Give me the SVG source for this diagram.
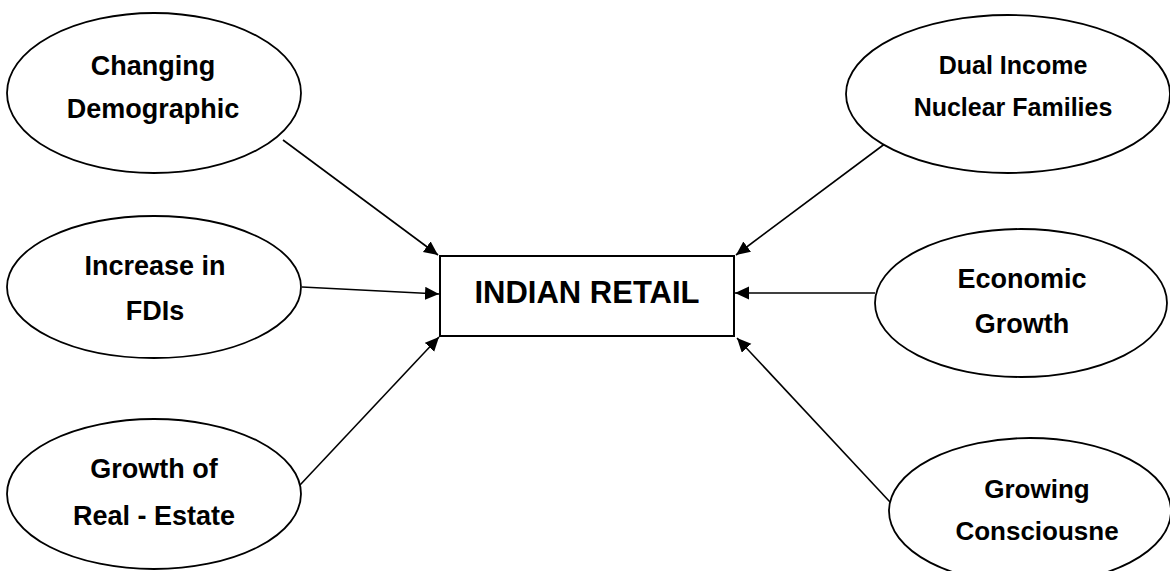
<svg xmlns="http://www.w3.org/2000/svg" width="1170" height="571" viewBox="0 0 1170 571">
<style>
.node ellipse{fill:#fff;stroke:#000;stroke-width:1.8}
.node rect{fill:#fff;stroke:#000;stroke-width:2}
text{font-family:"Liberation Sans",Arial,sans-serif;font-weight:bold;fill:#000;text-anchor:middle}
.l{font-size:27px}
.m{font-size:25px}
.g{font-size:26px}
.c{font-size:31px}
#connectors line{stroke:#000;stroke-width:1.6;marker-end:url(#arr)}
</style>
<defs>
<marker id="arr" markerUnits="userSpaceOnUse" markerWidth="16" markerHeight="14" refX="14" refY="6.5" orient="auto">
<path d="M0,0 L14,6.5 L0,13 Z" fill="#000"/>
</marker>
</defs>
<rect width="1170" height="571" fill="#fff"/>
<g id="connectors">
<line x1="283" y1="140" x2="438" y2="255"/>
<line x1="302" y1="287" x2="439" y2="294"/>
<line x1="300" y1="485" x2="439" y2="337"/>
<line x1="890" y1="140" x2="736" y2="255"/>
<line x1="875" y1="293" x2="735" y2="293"/>
<line x1="890" y1="502" x2="737" y2="338"/>
</g>
<g id="n-changing" class="node">
<ellipse cx="154" cy="93" rx="147" ry="80"/>
<text class="l" x="153" y="75">Changing</text>
<text class="l" x="153" y="118">Demographic</text>
</g>
<g id="n-fdi" class="node">
<ellipse cx="154" cy="287" rx="147" ry="71"/>
<text class="l" x="155" y="275">Increase in</text>
<text class="l" x="155" y="320">FDIs</text>
</g>
<g id="n-realestate" class="node">
<ellipse cx="154" cy="494" rx="147" ry="75"/>
<text class="l" x="154" y="478">Growth of</text>
<text class="l" x="154" y="525">Real - Estate</text>
</g>
<g id="n-dual" class="node">
<ellipse cx="1008" cy="94" rx="162" ry="79"/>
<text class="m" x="1013" y="74">Dual Income</text>
<text class="m" x="1013" y="116">Nuclear Families</text>
</g>
<g id="n-economic" class="node">
<ellipse cx="1021" cy="303" rx="146" ry="74"/>
<text class="l" x="1022" y="288">Economic</text>
<text class="l" x="1022" y="333">Growth</text>
</g>
<g id="n-growing" class="node">
<ellipse cx="1030" cy="511" rx="141" ry="73"/>
<text class="g" x="1037" y="498">Growing</text>
<text class="g" x="1037" y="540">Consciousne</text>
</g>
<g id="n-retail" class="node">
<rect x="440" y="256" width="294" height="80"/>
<text class="c" x="587" y="303">INDIAN RETAIL</text>
</g>
</svg>
